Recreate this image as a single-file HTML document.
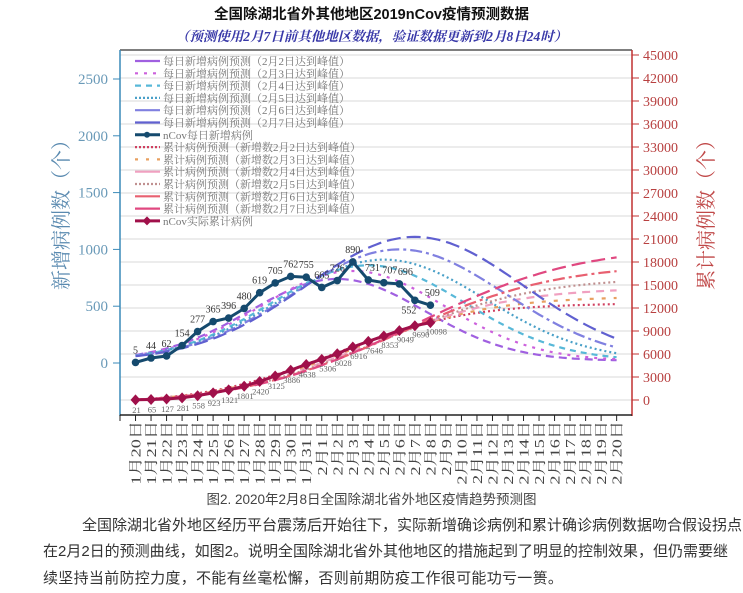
<!DOCTYPE html>
<html><head><meta charset="utf-8"><style>
html,body{margin:0;padding:0;background:#fff;width:743px;height:593px;overflow:hidden}
.t{position:absolute;left:0;width:743px;text-align:center}
.p{position:absolute;font-family:"Liberation Sans","Noto Sans CJK SC",sans-serif;font-size:15px;color:#333;white-space:nowrap}
</style></head><body>
<div class="t" style="top:3px;font-family:'Liberation Sans','Noto Sans CJK SC',sans-serif;font-weight:bold;font-size:14.5px;color:#111">全国除湖北省外其他地区2019nCov疫情预测数据</div>
<div class="t" style="top:25px;font-family:'Liberation Serif','Noto Serif CJK SC',serif;font-weight:bold;font-style:italic;font-size:13.5px;color:#3838a8">（预测使用2月7日前其他地区数据，验证数据更新到2月8日24时）</div>
<svg id="s" width="743" height="490" style="position:absolute;left:0;top:0"></svg>
<div class="t" style="top:488px;font-family:'Liberation Sans','Noto Sans CJK SC',sans-serif;font-size:13.5px;color:#444">图2. 2020年2月8日全国除湖北省外地区疫情趋势预测图</div>
<div class="p" style="left:82px;top:514px;width:640px;text-align:justify;text-align-last:justify">全国除湖北省外地区经历平台震荡后开始往下，实际新增确诊病例和累计确诊病例数据吻合假设拐点</div>
<div class="p" style="left:43px;top:540px;width:679px;text-align:justify;text-align-last:justify">在2月2日的预测曲线，如图2。说明全国除湖北省外其他地区的措施起到了明显的控制效果，但仍需要继</div>
<div class="p" style="left:43px;top:567px;letter-spacing:0.3px">续坚持当前防控力度，不能有丝毫松懈，否则前期防疫工作很可能功亏一篑。</div>
<script>
var s=document.getElementById('s'),h='';
function X(i){return 120+15.52*(i+1);}
function YL(v){return 363-v*0.1136;}
function YR(v){return 400-v*0.007667;}
var SER="font-family='Liberation Serif,Noto Serif CJK SC,serif'";
for(var k=0;k<=15;k++){var y=YR(k*3000);h+="<line x1='120' x2='632' y1='"+y+"' y2='"+y+"' stroke='#d8d8d8' stroke-width='1'/>";}
h+="<line x1='120' x2='632' y1='50' y2='50' stroke='#555' stroke-width='1.5'/>";
h+="<line x1='120' x2='120' y1='50' y2='416' stroke='#3a8ab8' stroke-width='1.5'/>";
h+="<line x1='632' x2='632' y1='50' y2='416' stroke='#c03030' stroke-width='1.5'/>";
h+="<line x1='120' x2='632' y1='415' y2='415' stroke='#222' stroke-width='1.5'/>";
for(var v=0;v<=2500;v+=500){var y=YL(v);h+="<line x1='113' x2='120' y1='"+y+"' y2='"+y+"' stroke='#3a8ab8'/><text x='108' y='"+(y+5)+"' text-anchor='end' font-size='15' fill='#6a9ab8' "+SER+">"+v+"</text>";}
for(var v=0;v<=45000;v+=3000){var y=YR(v);h+="<line x1='632' x2='639' y1='"+y+"' y2='"+y+"' stroke='#c03030'/><text x='643' y='"+(y+5)+"' font-size='14' fill='#b84040' "+SER+">"+v+"</text>";}
h+="<text transform='translate(68,210) rotate(-90)' text-anchor='middle' font-size='20' fill='#5a8ab0' "+SER+">新增病例数（个）</text>";
h+="<text transform='translate(713,210) rotate(-90)' text-anchor='middle' font-size='20' fill='#c04848' "+SER+">累计病例数（个）</text>";
var lab=[];for(var d=20;d<=31;d++)lab.push('1月'+d+'日');for(var d=1;d<=20;d++)lab.push('2月'+d+'日');
for(var i=0;i<=32;i++){var x=120+15.52*i;h+="<line x1='"+x+"' x2='"+x+"' y1='415' y2='421' stroke='#222'/>";}
for(var i=0;i<32;i++){var x=X(i)+5;h+="<text transform='translate("+x+",421) rotate(-90) scale(1.3,1)' text-anchor='end' font-size='14' fill='#444' "+SER+">"+lab[i]+"</text>";}
function path(pts,col,w,dash){var d='';for(var j=0;j<pts.length;j++)d+=(j?'L':'M')+pts[j][0].toFixed(1)+','+pts[j][1].toFixed(1);return "<path d='"+d+"' fill='none' stroke='"+col+"' stroke-width='"+w+"'"+(dash?" stroke-dasharray='"+dash+"'":"")+"/>";}
var P=[[13,720,8,'#a060e0','8,5',12500,'#d04060','2,3'],[14,790,8.4,'#cc60dc','3,6',13300,'#e8a060','4,8'],[15,840,8.8,'#58b8d8','6,5',14300,'#f0a0c0','8,6'],[16,890,9.3,'#4aa0c8','2,3',15400,'#c09090','2,3'],[17,980,9.6,'#8080e0','12,4,3,4',16800,'#e86070','12,4,3,4'],[18,1090,9.9,'#6060d0','14,6',18600,'#e04880','14,6']];
P.forEach(function(p){
 var pts=[],cp=[];
 for(var t=0;t<=31;t+=0.25){var v=p[1]*Math.exp(-Math.pow((t-p[0])/p[2],2))+20;pts.push([X(t),YL(v)]);}
 var tot=0,S=[];for(var t=0;t<=31;t+=0.25){tot+=Math.exp(-Math.pow((t-p[0])/(p[2]*1.15),2))+0.03;S.push(tot);}
 var k2=0;for(var t=0;t<=31;t+=0.25){var v=21+(p[5]-21)*(S[k2]-S[0])/(tot-S[0]);cp.push([X(t),YR(v)]);k2++;}
 h+=path(pts,p[3],2.2,p[4]);h+=path(cp,p[6],2.2,p[7]);
});
var dly=[5,44,62,154,277,365,396,480,619,705,762,755,665,726,890,731,707,696,552,509];
var cum=[21,65,127,281,558,923,1321,1801,2420,3125,3886,4638,5306,6028,6916,7646,8353,9049,9690,10098];
var a=[],b=[];for(var i=0;i<20;i++){a.push([X(i),YL(dly[i])]);b.push([X(i),YR(cum[i])]);}
h+=path(a,'#154a6e',3);h+=path(b,'#a0104a',3);
for(var i=0;i<20;i++){h+="<circle cx='"+a[i][0]+"' cy='"+a[i][1]+"' r='3.8' fill='#154a6e'/>";
 var x=b[i][0],y=b[i][1];h+="<path d='M"+x+","+(y-5.5)+"L"+(x+5)+","+y+"L"+x+","+(y+5.5)+"L"+(x-5)+","+y+"Z' fill='#a0104a'/>";
 var lx=a[i][0],ly=a[i][1]-9;if(i==15)lx+=4;if(i==16)lx+=6;if(i==17)lx+=6;if(i==18){ly=a[i][1]+13;lx-=6;}if(i==19){lx+=2;}
 h+="<text x='"+lx+"' y='"+ly+"' text-anchor='middle' font-size='10' fill='#333' "+SER+">"+dly[i]+"</text>";
 h+="<text x='"+(x+ (i>=12?6:1))+"' y='"+(y+ (i>=12?12:13))+"' text-anchor='middle' font-size='8.5' fill='#666' "+SER+">"+cum[i]+"</text>";}
var L=[['每日新增病例预测（2月2日达到峰值）','#a060e0',''],['每日新增病例预测（2月3日达到峰值）','#cc60dc','3,6'],['每日新增病例预测（2月4日达到峰值）','#58b8d8','6,5'],['每日新增病例预测（2月5日达到峰值）','#4aa0c8','2,2'],['每日新增病例预测（2月6日达到峰值）','#8080e0',''],['每日新增病例预测（2月7日达到峰值）','#6060d0',''],['nCov每日新增病例','#154a6e','m'],['累计病例预测（新增数2月2日达到峰值）','#d04060','2,2'],['累计病例预测（新增数2月3日达到峰值）','#e8a060','3,8'],['累计病例预测（新增数2月4日达到峰值）','#f0a0c0',''],['累计病例预测（新增数2月5日达到峰值）','#c09090','2,2'],['累计病例预测（新增数2月6日达到峰值）','#e86070',''],['累计病例预测（新增数2月7日达到峰值）','#e04880',''],['nCov实际累计病例','#a0104a','d']];
for(var j=0;j<L.length;j++){var y=61+j*12.3,c=L[j][1];
 if(L[j][2]=='m'){h+="<line x1='135' x2='160' y1='"+y+"' y2='"+y+"' stroke='"+c+"' stroke-width='3'/><circle cx='147' cy='"+y+"' r='3' fill='"+c+"'/>";}
 else if(L[j][2]=='d'){h+="<line x1='135' x2='160' y1='"+y+"' y2='"+y+"' stroke='"+c+"' stroke-width='3'/><path d='M147,"+(y-4.5)+"L151.5,"+y+"L147,"+(y+4.5)+"L142.5,"+y+"Z' fill='"+c+"'/>";}
 else h+="<line x1='135' x2='160' y1='"+y+"' y2='"+y+"' stroke='"+c+"' stroke-width='2.2'"+(L[j][2]?" stroke-dasharray='"+L[j][2]+"'":"")+"/>";
 h+="<text x='163' y='"+(y+4)+"' font-size='11' fill='#777' "+SER+">"+L[j][0]+"</text>";}
s.innerHTML=h;
</script>
</body></html>
